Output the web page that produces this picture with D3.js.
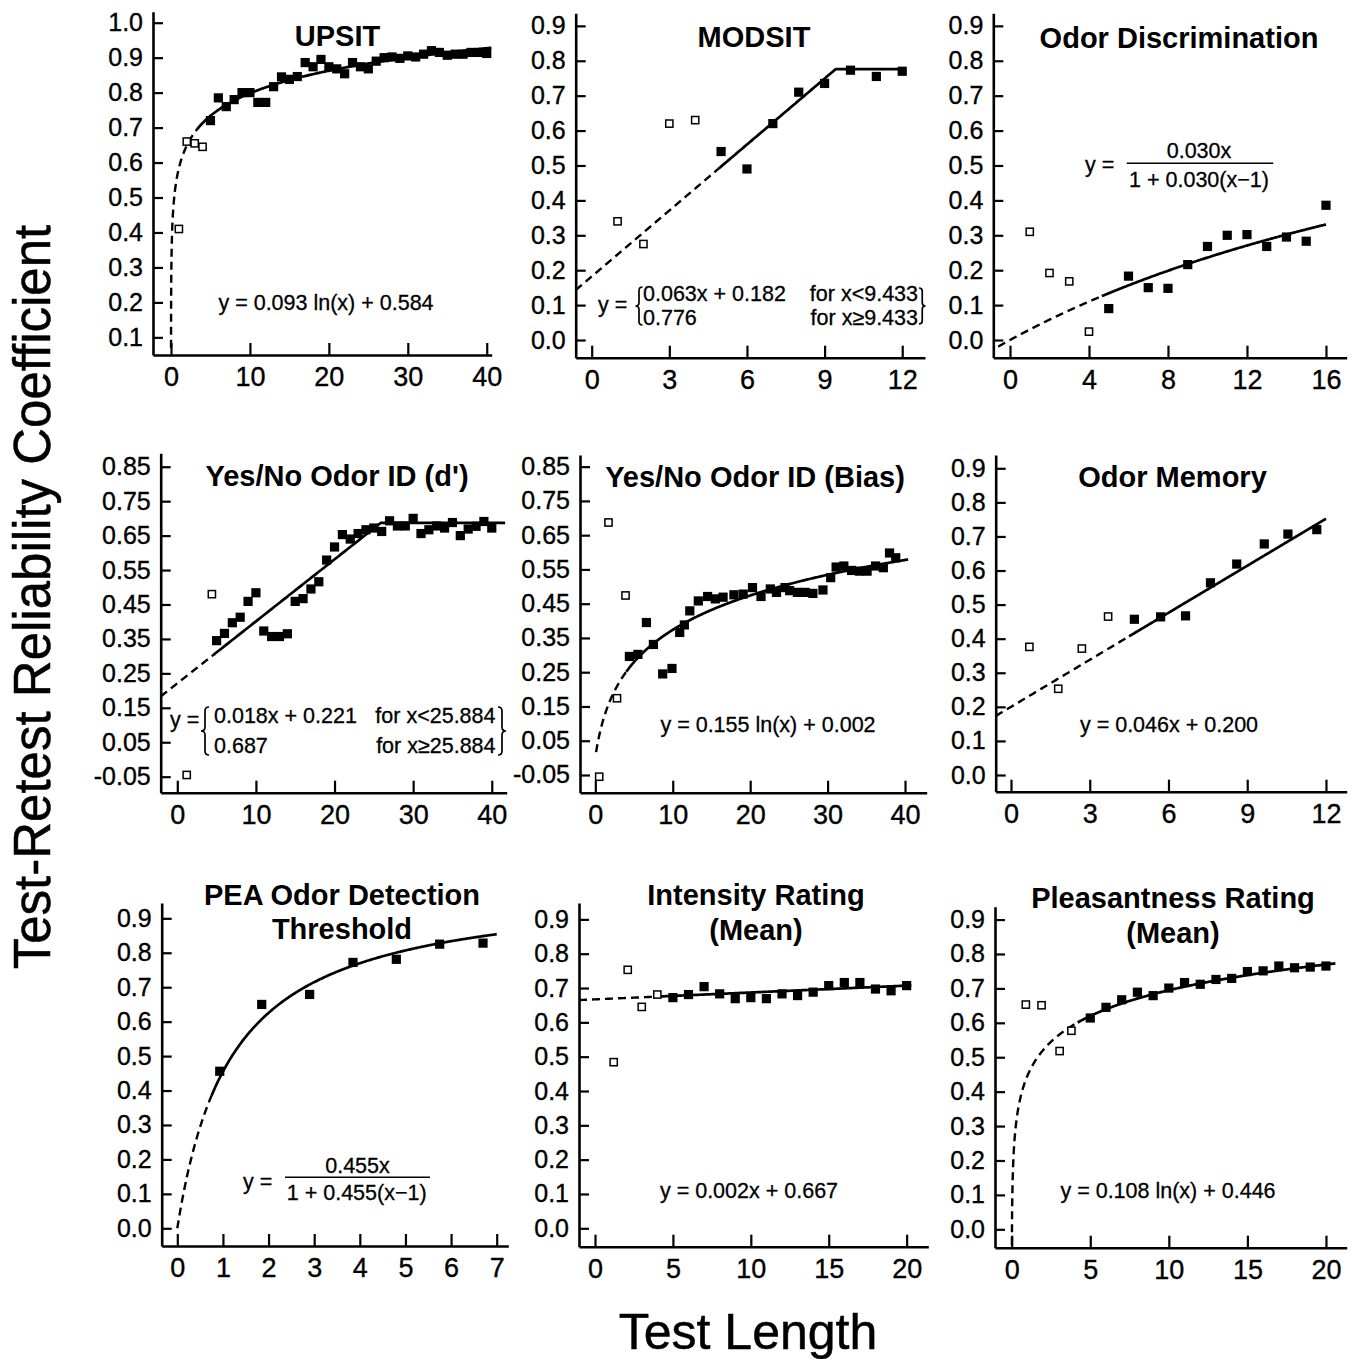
<!DOCTYPE html>
<html lang="en">
<head>
<meta charset="utf-8">
<title>Test-Retest Reliability</title>
<script src="https://cdn.jsdelivr.net/npm/d3@7"></script>
<style>
    body { margin: 0; background: #fff; }
    svg { display: block; font-family: "Liberation Sans", Arial, Helvetica, sans-serif; }
    .axis path { stroke: #000; stroke-width: 2.6px; }
    .axis line { stroke: #000; stroke-width: 2.2px; }
    .axis text { font-family: "Liberation Sans", Arial, sans-serif; fill: #000; stroke: #000; stroke-width: 0.35px; }
    .ytick text { font-size: 25px; }
    .xtick text { font-size: 27px; }
    .title { font-size: 29px; font-weight: bold; text-anchor: middle; }
    .eq { font-size: 21.5px; stroke: #000; stroke-width: 0.3px; }
    .big { stroke: #000; stroke-width: 0.5px; }
</style>
</head>
<body>
<svg id="chart" width="1357" height="1359"></svg>
<script>
// ---- data ----
var upsitOpenX = [1, 2, 3, 4];
var upsitOpenY = [0.41, 0.66, 0.655, 0.645];
var upsitX = [5, 6, 7, 8, 9, 10, 11, 12, 13, 14, 15, 16, 17, 18, 19, 20, 21, 22, 23, 24,
              25, 26, 27, 28, 29, 30, 31, 32, 33, 34, 35, 36, 37, 38, 39, 40];
var upsitY = [0.72, 0.785, 0.76, 0.78, 0.80, 0.80, 0.772, 0.772, 0.817, 0.845, 0.838, 0.846,
              0.886, 0.874, 0.895, 0.874, 0.868, 0.854, 0.886, 0.874, 0.868, 0.89, 0.90, 0.902,
              0.898, 0.905, 0.902, 0.91, 0.92, 0.915, 0.907, 0.91, 0.91, 0.915, 0.915, 0.912];

var modsitOpenX = [1, 2, 3, 4];
var modsitOpenY = [0.34, 0.275, 0.62, 0.63];
var modsitX = [5, 6, 7, 8, 9, 10, 11, 12];
var modsitY = [0.54, 0.49, 0.62, 0.71, 0.735, 0.773, 0.755, 0.77];

var discrimOpenX = [1, 2, 3, 4];
var discrimOpenY = [0.31, 0.192, 0.168, 0.024];
var discrimX = [5, 6, 7, 8, 9, 10, 11, 12, 13, 14, 15, 16];
var discrimY = [0.09, 0.183, 0.15, 0.148, 0.216, 0.268, 0.30, 0.302, 0.268, 0.295, 0.283, 0.386];

var dprimeOpenX = [1.2, 4.4];
var dprimeOpenY = [-0.045, 0.48];
var dprimeX = [5, 6, 7, 8, 9, 10, 11, 12, 13, 14, 15, 16, 17, 18, 19, 20, 21, 22, 23, 24,
               25, 26, 27, 28, 29, 30, 31, 32, 33, 34, 35, 36, 37, 38, 39, 40];
var dprimeY = [0.345, 0.366, 0.397, 0.413, 0.459, 0.484, 0.373, 0.357, 0.357, 0.365, 0.459, 0.467,
               0.495, 0.516, 0.579, 0.617, 0.653, 0.64, 0.656, 0.667, 0.672, 0.662, 0.693, 0.678,
               0.678, 0.70, 0.656, 0.667, 0.678, 0.672, 0.688, 0.65, 0.669, 0.677, 0.691, 0.672];

var biasOpenX = [0.5, 1.7, 2.8, 3.9];
var biasOpenY = [-0.055, 0.687, 0.174, 0.474];
var biasX = [4.4, 5.5, 6.6, 7.5, 8.7, 9.9, 10.9, 11.5, 12.2, 13.3, 14.5, 15.5, 16.5, 17.9, 19.1,
             20.3, 21.4, 22.6, 23.4, 24.5, 25.1, 26.1, 27.1, 28.1, 29.4, 30.4, 31.1, 32.1, 33.1,
             34.1, 35.1, 36.2, 37.2, 38.0, 38.8];
var biasY = [0.296, 0.302, 0.395, 0.331, 0.245, 0.261, 0.366, 0.388, 0.429, 0.458, 0.471, 0.464,
             0.469, 0.476, 0.478, 0.497, 0.471, 0.493, 0.483, 0.497, 0.488, 0.483, 0.483, 0.48,
             0.49, 0.526, 0.557, 0.56, 0.547, 0.545, 0.545, 0.56, 0.555, 0.598, 0.584];

var memoryOpenX = [0.7, 1.8, 2.7, 3.7];
var memoryOpenY = [0.376, 0.253, 0.371, 0.465];
var memoryX = [4.7, 5.7, 6.65, 7.6, 8.6, 9.65, 10.55, 11.65];
var memoryY = [0.457, 0.464, 0.467, 0.564, 0.619, 0.678, 0.707, 0.72];

var peaX = [0.93, 1.85, 2.9, 3.85, 4.8, 5.75, 6.7];
var peaY = [0.456, 0.65, 0.679, 0.772, 0.781, 0.825, 0.828];

var intensityOpenX = [1.2, 2.1, 3, 4];
var intensityOpenY = [0.484, 0.753, 0.645, 0.681];
var intensityX = [5, 6, 7, 8, 9, 10, 11, 12, 13, 14, 15, 16, 17, 18, 19, 20];
var intensityY = [0.672, 0.681, 0.704, 0.683, 0.669, 0.672, 0.669, 0.683, 0.678, 0.688, 0.707,
                  0.716, 0.716, 0.697, 0.692, 0.707];

var pleasantOpenX = [0.9, 1.9, 3.05, 3.8];
var pleasantOpenY = [0.653, 0.651, 0.518, 0.577];
var pleasantX = [5, 6, 7, 8, 9, 10, 11, 12, 13, 14, 15, 16, 17, 18, 19, 20];
var pleasantY = [0.614, 0.645, 0.667, 0.689, 0.679, 0.701, 0.717, 0.712, 0.726, 0.729, 0.749,
                 0.751, 0.765, 0.76, 0.762, 0.765];

// fitted curves as printed in each panel
var upsitFit = {type: "log", a: 0.093, b: 0.584, shift: 0};
var modsitFit = {type: "piece", a: 0.063, b: 0.182, brk: 9.433, c: 0.776};
var discrimFit = {type: "sb", k: 0.030};
var dprimeFit = {type: "piece", a: 0.018, b: 0.221, brk: 25.884, c: 0.687};
var biasFit = {type: "log", a: 0.155, b: 0.002, shift: 1};
var memoryFit = {type: "lin", a: 0.046, b: 0.200};
var peaFit = {type: "sb", k: 0.455};
var intensityFit = {type: "lin", a: 0.002, b: 0.667};
var pleasantFit = {type: "log", a: 0.108, b: 0.446, shift: 0};

// ticks
var upsitYTicks = [0.1, 0.2, 0.3, 0.4, 0.5, 0.6, 0.7, 0.8, 0.9, 1.0];
var tenthsTicks = [0.0, 0.1, 0.2, 0.3, 0.4, 0.5, 0.6, 0.7, 0.8, 0.9];
var fivesTicks = [-0.05, 0.05, 0.15, 0.25, 0.35, 0.45, 0.55, 0.65, 0.75, 0.85];
var fortyTicks = [0, 10, 20, 30, 40];
var twelveTicks = [0, 3, 6, 9, 12];
var sixteenTicks = [0, 4, 8, 12, 16];
var sevenTicks = [0, 1, 2, 3, 4, 5, 6, 7];
var twentyTicks = [0, 5, 10, 15, 20];

var yTitle = "Test-Retest Reliability Coefficient";
var xTitle = "Test Length";

// ---- layout ----
var panels = [
    {title: ["UPSIT"], tx: 337.5, ty: [45.5], frame: [153, 11.7, 491.7, 355],
     xDom: [-2.28, 40.63], yDom: [0.0495, 1.0315], xt: fortyTicks, yt: upsitYTicks, dec: 1,
     open: [upsitOpenX, upsitOpenY], filled: [upsitX, upsitY], fit: upsitFit, dash: [0.004, 3.3, 40.6],
     eq: {texts: [["y = 0.093 ln(x) + 0.584", 326, 310, "middle"]]}},
    {title: ["MODSIT"], tx: 754, ty: [46.7], frame: [575.7, 13.3, 925, 357.7],
     xDom: [-0.618, 12.88], yDom: [-0.0507, 0.936], xt: twelveTicks, yt: tenthsTicks, dec: 1,
     open: [modsitOpenX, modsitOpenY], filled: [modsitX, modsitY], fit: modsitFit, dash: [-0.618, 4.9, 12],
     eq: {texts: [["y =", 598, 311.7, "start"], ["0.063x + 0.182", 643, 300.7, "start"],
                  ["for x<9.433", 918, 300.7, "end"], ["0.776", 643, 325, "start"],
                  ["for x\u22659.433", 918, 325, "end"]],
          braces: [[635.5, 287, 325, 7, 1], [925.5, 288, 324, 6.5, -1]]}},
    {title: ["Odor Discrimination"], tx: 1179, ty: [48], frame: [993.3, 13.3, 1346.7, 357.7],
     xDom: [-0.846, 17.05], yDom: [-0.0507, 0.936], xt: sixteenTicks, yt: tenthsTicks, dec: 1,
     open: [discrimOpenX, discrimOpenY], filled: [discrimX, discrimY], fit: discrimFit, dash: [-0.6, 4.65, 16],
     eq: {texts: [["y =", 1085, 172, "start"], ["0.030x", 1199, 158.3, "middle"],
                  ["1 + 0.030(x\u22121)", 1199, 186.7, "middle"]],
          bar: [1126.7, 1273.3, 163.3]}},
    {title: ["Yes/No Odor ID (d')"], tx: 337, ty: [486], frame: [160.7, 453.3, 506.7, 792.7],
     xDom: [-2.11, 41.9], yDom: [-0.0965, 0.889], xt: fortyTicks, yt: fivesTicks, dec: 2,
     open: [dprimeOpenX, dprimeOpenY], filled: [dprimeX, dprimeY], fit: dprimeFit, dash: [-2.11, 4.6, 41.7],
     eq: {texts: [["y =", 170, 727, "start"], ["0.018x + 0.221", 214, 722.7, "start"],
                  ["for x<25.884", 495.5, 722.7, "end"], ["0.687", 214, 752.7, "start"],
                  ["for x\u226525.884", 495.5, 752.7, "end"]],
          braces: [[201, 707, 755, 8, 1], [506, 707, 755, 8, -1]]}},
    {title: ["Yes/No Odor ID (Bias)"], tx: 755, ty: [486.7], frame: [580, 455, 926.7, 792.7],
     xDom: [-1.98, 42.8], yDom: [-0.1017, 0.884], xt: fortyTicks, yt: fivesTicks, dec: 2,
     open: [biasOpenX, biasOpenY], filled: [biasX, biasY], fit: biasFit, dash: [0.1, 4.0, 40.4],
     eq: {texts: [["y = 0.155 ln(x) + 0.002", 768, 731.7, "middle"]]}},
    {title: ["Odor Memory"], tx: 1172.5, ty: [486.7], frame: [995.7, 455, 1346.7, 791.7],
     xDom: [-0.583, 12.79], yDom: [-0.049, 0.939], xt: twelveTicks, yt: tenthsTicks, dec: 1,
     open: [memoryOpenX, memoryOpenY], filled: [memoryX, memoryY], fit: memoryFit, dash: [-0.583, 4.5, 12],
     eq: {texts: [["y = 0.046x + 0.200", 1169, 731.7, "middle"]]}},
    {title: ["PEA Odor Detection", "Threshold"], tx: 342, ty: [905, 939.3], frame: [161.7, 903, 508.3, 1246],
     xDom: [-0.342, 7.254], yDom: [-0.0514, 0.9445], xt: sevenTicks, yt: tenthsTicks, dec: 1,
     open: [[], []], filled: [peaX, peaY], fit: peaFit, dash: [0, 0.75, 7],
     eq: {texts: [["y =", 243, 1189, "start"], ["0.455x", 357.5, 1173, "middle"],
                  ["1 + 0.455(x\u22121)", 356.7, 1200, "middle"]],
          bar: [285, 430, 1177.3]}},
    {title: ["Intensity Rating", "(Mean)"], tx: 756, ty: [905, 940], frame: [579, 903, 928.3, 1246.7],
     xDom: [-1.027, 21.39], yDom: [-0.0536, 0.9477], xt: twentyTicks, yt: tenthsTicks, dec: 1,
     open: [intensityOpenX, intensityOpenY], filled: [intensityX, intensityY], fit: intensityFit, dash: [-1.027, 3.96, 20.3],
     eq: {texts: [["y = 0.002x + 0.667", 749, 1198.3, "middle"]]}},
    {title: ["Pleasantness Rating", "(Mean)"], tx: 1173, ty: [908.3, 943], frame: [995, 906.7, 1346.7, 1247.7],
     xDom: [-1.063, 21.32], yDom: [-0.0534, 0.9374], xt: twentyTicks, yt: tenthsTicks, dec: 1,
     open: [pleasantOpenX, pleasantOpenY], filled: [pleasantX, pleasantY], fit: pleasantFit, dash: [0.0105, 4.2, 20.6],
     eq: {texts: [["y = 0.108 ln(x) + 0.446", 1168, 1198.3, "middle"]]}}
];

function fitY(f, v) {
    if (f.type == "log") return f.a * Math.log(v + f.shift) + f.b;
    if (f.type == "lin") return f.a * v + f.b;
    if (f.type == "piece") return v < f.brk ? f.a * v + f.b : f.c;
    return f.k * v / (1 + f.k * (v - 1));
}

// x positions along a fitted curve, just for drawing it smoothly
function curve(f, a, b) {
    var n = 300, xs = [];
    for (var i = 0; i <= n; i++) xs.push(a + (b - a) * i / n);
    if (f.brk !== undefined && f.brk > a && f.brk < b) xs.push(f.brk);
    xs.sort(d3.ascending);
    return xs.map(function(v) { return [v, fitY(f, v)]; });
}

function brace(tip, y0, y1, w, dir) {
    var m = (y0 + y1) / 2, xa = tip + dir * w, xb = tip + dir * w / 2, r = w / 2;
    return "M" + xa + "," + y0 + "Q" + xb + "," + y0 + " " + xb + "," + (y0 + r) +
           "L" + xb + "," + (m - r) + "Q" + xb + "," + m + " " + tip + "," + m +
           "Q" + xb + "," + m + " " + xb + "," + (m + r) +
           "L" + xb + "," + (y1 - r) + "Q" + xb + "," + y1 + " " + xa + "," + y1;
}

var svg = d3.select("#chart");

panels.forEach(function(p) {
    var w = p.frame[2] - p.frame[0], h = p.frame[3] - p.frame[1];
    var x = d3.scaleLinear().domain(p.xDom).range([0, w]);
    var y = d3.scaleLinear().domain(p.yDom).range([h, 0]);
    var g = svg.append("g").attr("transform", "translate(" + p.frame[0] + "," + p.frame[1] + ")");

    g.append("g").attr("class", "axis ytick")
        .call(d3.axisLeft(y).tickValues(p.yt).tickSizeInner(-10).tickSizeOuter(0).tickPadding(10)
            .tickFormat(function(d) { return d.toFixed(p.dec); }));
    g.append("g").attr("class", "axis xtick")
        .attr("transform", "translate(0," + h + ")")
        .call(d3.axisBottom(x).tickValues(p.xt).tickSizeInner(-12).tickSizeOuter(0).tickPadding(12)
            .tickFormat(d3.format("d")));

    var line = d3.line().x(function(d) { return x(d[0]); }).y(function(d) { return y(d[1]); });
    g.append("path").datum(curve(p.fit, p.dash[0], p.dash[1]))
        .attr("d", line).attr("fill", "none").attr("stroke", "#000")
        .attr("stroke-width", 2.4).attr("stroke-dasharray", "8,5");
    g.append("path").datum(curve(p.fit, p.dash[1], p.dash[2]))
        .attr("d", line).attr("fill", "none").attr("stroke", "#000").attr("stroke-width", 2.7);

    g.selectAll("rect.open").data(d3.zip(p.open[0], p.open[1])).enter().append("rect")
        .attr("class", "open")
        .attr("x", function(d) { return x(d[0]) - 3.6; })
        .attr("y", function(d) { return y(d[1]) - 3.6; })
        .attr("width", 7.2).attr("height", 7.2)
        .attr("fill", "#fff").attr("stroke", "#000").attr("stroke-width", 1.5);
    g.selectAll("rect.filled").data(d3.zip(p.filled[0], p.filled[1])).enter().append("rect")
        .attr("class", "filled")
        .attr("x", function(d) { return x(d[0]) - 4.6; })
        .attr("y", function(d) { return y(d[1]) - 4.6; })
        .attr("width", 9.2).attr("height", 9.2)
        .attr("fill", "#000");

    p.title.forEach(function(t, i) {
        svg.append("text").attr("class", "title").attr("x", p.tx).attr("y", p.ty[i]).text(t);
    });

    p.eq.texts.forEach(function(t) {
        svg.append("text").attr("class", "eq").attr("x", t[1]).attr("y", t[2])
            .attr("text-anchor", t[3]).text(t[0]);
    });
    if (p.eq.bar) {
        svg.append("line").attr("x1", p.eq.bar[0]).attr("x2", p.eq.bar[1])
            .attr("y1", p.eq.bar[2]).attr("y2", p.eq.bar[2])
            .attr("stroke", "#000").attr("stroke-width", 1.5);
    }
    (p.eq.braces || []).forEach(function(b) {
        svg.append("path").attr("d", brace(b[0], b[1], b[2], b[3], b[4]))
            .attr("fill", "none").attr("stroke", "#000").attr("stroke-width", 1.7);
    });
});

svg.append("text")
    .attr("class", "big")
    .attr("transform", "translate(50,597) rotate(-90)")
    .attr("text-anchor", "middle")
    .attr("font-size", 51)
    .text(yTitle);

svg.append("text")
    .attr("class", "big")
    .attr("x", 748).attr("y", 1349)
    .attr("text-anchor", "middle")
    .attr("font-size", 50)
    .text(xTitle);
</script>
</body>
</html>
